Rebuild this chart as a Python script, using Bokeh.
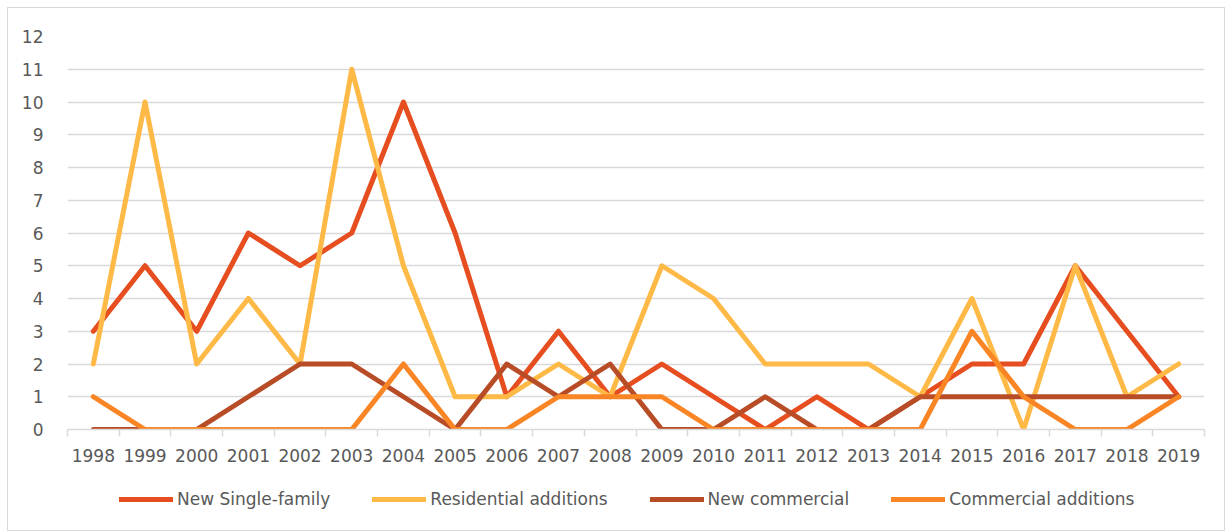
from bokeh.plotting import figure
from bokeh.layouts import column
from bokeh.models import FixedTicker, Legend, LegendItem
from bokeh.embed import file_html
from bokeh.resources import INLINE

years = list(range(1998, 2020))
new_single_family = [3, 5, 3, 6, 5, 6, 10, 6, 1, 3, 1, 2, 1, 0, 1, 0, 1, 2, 2, 5, 3, 1]
residential_additions = [2, 10, 2, 4, 2, 11, 5, 1, 1, 2, 1, 5, 4, 2, 2, 2, 1, 4, 0, 5, 1, 2]
new_commercial = [0, 0, 0, 1, 2, 2, 1, 0, 2, 1, 2, 0, 0, 1, 0, 0, 1, 1, 1, 1, 1, 1]
commercial_additions = [1, 0, 0, 0, 0, 0, 2, 0, 0, 1, 1, 1, 0, 0, 0, 0, 0, 3, 1, 0, 0, 1]
y_ticks = list(range(0, 13))

series = [
    ("New Single-family", new_single_family, "#E64D1F"),
    ("Residential additions", residential_additions, "#FFB946"),
    ("New commercial", new_commercial, "#B84C27"),
    ("Commercial additions", commercial_additions, "#F98525"),
]

FONT = "DejaVu Sans"
TXT = "#595959"

p = figure(width=1216, height=470, output_backend="svg", toolbar_location=None,
           x_range=(years[0] - 0.5, years[-1] + 0.5), y_range=(0, 12),
           min_border_left=59, min_border_right=20, min_border_top=28, min_border_bottom=49)
p.outline_line_color = None
p.background_fill_color = "white"
p.border_fill_color = "white"

p.xaxis.ticker = FixedTicker(ticks=years, minor_ticks=[y - 0.5 for y in years] + [years[-1] + 0.5])
p.xaxis.major_tick_line_color = None
p.xaxis.minor_tick_line_color = "#d9d9d9"
p.xaxis.minor_tick_line_width = 1.5
p.xaxis.minor_tick_out = 7
p.xaxis.minor_tick_in = 0
p.xaxis.axis_line_color = "#d9d9d9"
p.xaxis.axis_line_width = 1.5
p.xaxis.major_label_standoff = 12
p.xgrid.grid_line_color = None

p.yaxis.ticker = FixedTicker(ticks=y_ticks)
p.yaxis.axis_line_color = None
p.yaxis.major_tick_line_color = None
p.yaxis.minor_tick_line_color = None
p.yaxis.major_label_standoff = 18
p.ygrid.grid_line_color = "#d9d9d9"
p.ygrid.grid_line_width = 1.5

for ax in (p.xaxis, p.yaxis):
    ax.major_label_text_font = FONT
    ax.major_label_text_font_size = "17px"
    ax.major_label_text_color = TXT

for name, vals, color in series:
    p.line(years, vals, line_color=color, line_width=5, line_join="round", line_cap="round")

# legend strip below the chart (its lines lie outside its own range, so only the legend shows)
lg = figure(width=1216, height=52, output_backend="svg", toolbar_location=None,
            x_range=(0, 1), y_range=(0, 1), x_axis_location=None, y_axis_location=None,
            min_border=0)
lg.outline_line_color = None
lg.grid.visible = False
lg.border_fill_color = "white"
items = []
for name, vals, color in series:
    r = lg.line(years, vals, line_color=color, line_width=5, line_cap="round")
    items.append(LegendItem(label=name, renderers=[r]))

legend = Legend(items=items, orientation="horizontal", location=(52, 21),
                glyph_width=54, glyph_height=20, label_standoff=4, spacing=42,
                label_text_font=FONT, label_text_font_size="17px", label_text_color=TXT,
                border_line_color=None, background_fill_alpha=0, margin=0, padding=0)
lg.add_layout(legend, "center")

layout = column(p, lg, spacing=0, margin=(7, 0, 0, 7),
                styles={"border": "1px solid #d9d9d9", "background-color": "white"})

open("out.html", "w").write(file_html(layout, INLINE))
